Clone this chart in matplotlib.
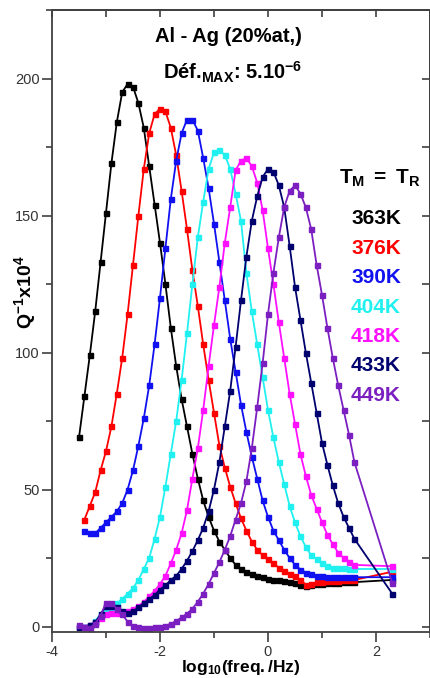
import numpy as np
import matplotlib
matplotlib.use('Agg')
import matplotlib.pyplot as plt
from matplotlib.ticker import MultipleLocator

plt.rcParams['font.family'] = ['Liberation Sans', 'DejaVu Sans']
plt.rcParams['mathtext.fontset'] = 'custom'
plt.rcParams['mathtext.rm'] = 'Liberation Sans'
plt.rcParams['mathtext.bf'] = 'Liberation Sans:bold'
plt.rcParams['mathtext.it'] = 'Liberation Sans:italic'
plt.rcParams['axes.unicode_minus'] = False

# log10 of the measuring frequency (last point is the isolated high-frequency one)
log_freq = [-3.5, -3.4, -3.3, -3.2, -3.1, -3.0, -2.9, -2.8, -2.7, -2.6,
            -2.5, -2.4, -2.3, -2.2, -2.1, -2.0, -1.9, -1.8, -1.7, -1.6,
            -1.5, -1.4, -1.3, -1.2, -1.1, -1.0, -0.9, -0.8, -0.7, -0.6,
            -0.5, -0.4, -0.3, -0.2, -0.1, 0.0, 0.1, 0.2, 0.3, 0.4,
            0.5, 0.6, 0.7, 0.8, 0.9, 1.0, 1.1, 1.2, 1.3, 1.4,
            1.5, 1.6, 2.3]

# Q^-1 x 10^4 for each temperature
q_363 = [69, 84, 99, 115, 133, 151, 169, 184, 195, 198,
         197, 191, 182, 168, 154, 140, 125, 109, 95, 83,
         73, 63, 54, 46, 40, 35, 31, 28, 25, 22.5,
         21, 20, 19, 18.5, 18, 17.5, 17, 16.8, 16.5, 16.2,
         15.8, 15.3, 14.8, 15.2, 15.5, 15.7, 15.9, 16, 16, 16.1,
         16.2, 16.2, 17]
# 376K and 390K start one step later (-3.4)
q_376 = [39, 44, 49, 57, 64, 73, 85, 98, 114,
         132, 150, 167, 180, 187, 189, 188, 182, 172, 159,
         145, 130, 117, 103, 90, 78, 66, 58, 51, 45,
         39.5, 35, 31, 28, 26, 24.5, 23, 21.5, 20.3, 19.3,
         18.3, 17, 15.3, 15.5, 16.2, 16.4, 16.5, 16.6, 16.7, 16.8,
         16.9, 17, 20]
q_390 = [35, 34, 34, 36, 38, 40, 42, 45, 50,
         57, 66, 76, 88, 103, 120, 138, 156, 170, 180,
         185, 185, 181, 171, 160, 147, 133, 119, 105, 93,
         81, 71, 62, 54, 46, 40, 35, 31.5, 28, 25,
         22.5, 20.8, 19.7, 19, 18.5, 18.3, 18.2, 18.2, 18.1, 18,
         18, 18, 18]
q_404 = [0, 0, 0.5, 2, 4.5, 6.5, 7, 8.5, 10, 12,
         14, 17, 21, 25, 32, 40, 51, 63, 75, 90,
         107, 125, 142, 155, 167, 173, 174, 172, 167, 158,
         148, 129, 115, 103, 91, 79, 69, 60, 52, 44,
         38, 33, 29, 26, 24.5, 23, 22, 21.5, 21.3, 21.2,
         21, 21, 21]
q_418 = [0, 0, 0.5, 1.5, 3, 4.5, 5, 5, 5, 5.5,
         6.5, 7.5, 9, 11, 13, 15.5, 18.5, 23, 28, 34,
         42.5, 54, 65, 79, 95, 110, 124, 140, 153, 166.5,
         170, 171, 168, 162, 152, 138, 125, 111, 98, 85,
         74, 63, 55, 48, 43, 38, 33.5, 30, 27, 25,
         23.5, 22.5, 22]
q_433 = [0, 0, 0.5, 1.5, 4.5, 7.5, 7.5, 7, 5.5, 5,
         5.5, 7, 8.5, 10, 11.5, 13.5, 15, 17, 18.5, 21,
         24, 27.5, 31.5, 36, 42, 50, 60, 73, 86, 102,
         119, 135, 148, 157, 164, 167, 166, 161, 153, 139,
         124, 112, 100, 89, 78, 67, 59, 51.5, 45, 40,
         36, 32, 12]
q_449 = [0.5, 0, -0.5, 1, 4, 8.7, 8.7, 6.5, 4.4, 1.8,
         0.3, -0.3, -0.5, -0.5, -0.3, 0, 0.3, 1, 2, 3.3,
         4.7, 6.5, 9, 12, 15.5, 19.5, 23.5, 28, 33, 39,
         45, 53, 65, 80, 96, 114, 129, 142, 153, 159,
         161, 158, 153, 145, 132, 121, 109, 98, 88, 79,
         70, 60, 16]

temps = ['363K', '376K', '390K', '404K', '418K', '433K', '449K']
colors = ['#000000', '#ff0000', '#1010f0', '#20f0f0', '#ff10ff', '#00006e', '#7b1fc0']
curves = [q_363, q_376, q_390, q_404, q_418, q_433, q_449]

fig = plt.figure(figsize=(4.30, 6.78), dpi=100)
ax = fig.add_axes([52 / 430, 1 - 632 / 678, 378 / 430, 622 / 678])

x_all = np.array(log_freq)
for y, c in zip(curves, colors):
    xs = x_all[len(x_all) - len(y):]
    ax.plot(xs, y, '-s', color=c, lw=1.3, ms=3.6, mec=c, mfc=c)

ax.set_xlim(-4, 3)
ax.set_ylim(-2, 225)
ax.xaxis.set_major_locator(MultipleLocator(2))
ax.xaxis.set_minor_locator(MultipleLocator(1))
ax.yaxis.set_major_locator(MultipleLocator(50))
ax.yaxis.set_minor_locator(MultipleLocator(25))

spine_col = '#404040'
for s in ax.spines.values():
    s.set_color(spine_col)
    s.set_linewidth(1.3)
ax.tick_params(which='major', direction='out', length=7, width=1.2,
               color=spine_col, labelcolor='#333333', labelsize=10.5, pad=2)
ax.tick_params(which='minor', direction='out', length=4, width=1.2, color=spine_col)

# mirrored ticks on top and right point inward
secx = ax.secondary_xaxis('top')
secx.xaxis.set_major_locator(MultipleLocator(1))
secx.tick_params(direction='in', length=5, width=1.2, color=spine_col, labeltop=False)
secx.spines['top'].set_color(spine_col)
secx.spines['top'].set_linewidth(1.3)
secy = ax.secondary_yaxis('right')
secy.yaxis.set_major_locator(MultipleLocator(25))
secy.tick_params(direction='in', length=6, width=1.2, color=spine_col, labelright=False)
secy.spines['right'].set_color(spine_col)
secy.spines['right'].set_linewidth(1.3)

ax.text(-0.071, 0.547, r'$\mathbf{Q^{-1}x10^{4}}$', transform=ax.transAxes,
        rotation=90, ha='center', va='center', fontsize=14)
ax.text(0.5, -0.057, r'$\mathbf{log_{10}(freq./Hz)}$', transform=ax.transAxes,
        ha='center', va='center', fontsize=12.5)

ax.text(0.468, 0.958, 'Al - Ag (20%at,)', transform=ax.transAxes,
        ha='center', va='center', fontsize=14.5, fontweight='bold')
ax.text(0.479, 0.900, r'Déf.$_{\mathbf{MAX}}$: 5.10$^{\mathbf{-6}}$', transform=ax.transAxes,
        ha='center', va='center', fontsize=14.5, fontweight='bold')

ax.text(0.867, 0.730, r'$\mathbf{T_M\ =\ T_R}$', transform=ax.transAxes,
        ha='center', va='center', fontsize=15)
for i, (t, c) in enumerate(zip(temps, colors)):
    ax.text(0.857, 0.664 - i * 0.0472, t, transform=ax.transAxes, color=c,
            ha='center', va='center', fontsize=15, fontweight='bold')

fig.savefig('out.png', dpi=100)
